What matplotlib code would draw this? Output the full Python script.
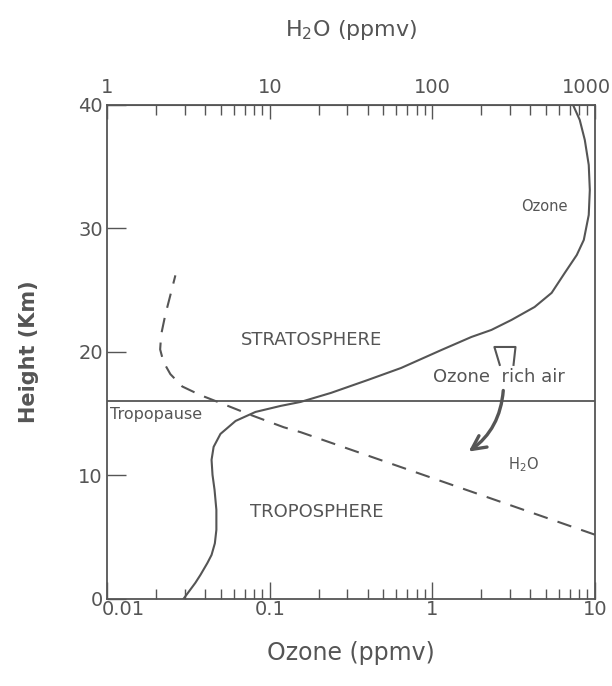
import matplotlib
matplotlib.use("Agg")
import matplotlib.pyplot as plt
import matplotlib.transforms as mtrans
from matplotlib.patches import FancyArrowPatch

# ozone profile (ppmv vs km)
ozone_ppmv = [0.0295, 0.0349, 0.0375, 0.0414, 0.0439, 0.0460, 0.0470, 0.0470, 0.0458,
              0.0445, 0.0439, 0.0452, 0.0498, 0.0617, 0.0818, 0.117, 0.155, 0.238,
              0.402, 0.643, 1.14, 1.74, 2.31, 3.07, 4.26, 5.42, 6.53, 7.74, 8.55,
              9.17, 9.31, 9.17, 8.67, 8.07, 7.4]
ozone_km = [0.0, 1.3, 1.94, 2.91, 3.56, 4.5, 5.59, 7.21, 8.83,
            10.04, 11.26, 12.31, 13.36, 14.41, 15.14, 15.63, 15.95, 16.68,
            17.73, 18.70, 20.16, 21.21, 21.78, 22.59, 23.64, 24.78, 26.40, 27.85, 29.07,
            31.09, 33.12, 35.14, 37.17, 38.79, 39.9]

# water vapour profile (ppmv vs km)
h2o_ppmv = [1000, 222, 15.5, 12.2, 7.63, 5.13, 3.75, 2.90, 2.45, 2.22, 2.12, 2.15,
            2.28, 2.45, 2.63]
h2o_km = [5.2, 8.2, 13.5, 13.9, 14.9, 15.8, 16.5, 17.2, 18.2, 19.2, 20.2, 21.4,
          23.0, 24.6, 26.2]

tropopause_km = 16.0

bottom_ticks = [0.01, 0.1, 1, 10]
bottom_labels = ["0.01", "0.1", "1", "10"]
top_ticks = [1, 10, 100, 1000]
top_labels = ["1", "10", "100", "1000"]
height_ticks = [0, 10, 20, 30, 40]

ink = "#555555"
plt.rcParams["font.family"] = ["DejaVu Sans"]

fig = plt.figure(figsize=(6.12, 6.86), dpi=100)
ax = fig.add_axes([0.175, 0.127, 0.797, 0.720])

ax.plot(ozone_ppmv, ozone_km, color=ink, lw=1.5)
ax.axhline(tropopause_km, color=ink, lw=1.3)

# H2O shares the y axis, top scale = 100 x bottom scale
ax.plot([v / 100.0 for v in h2o_ppmv], h2o_km, color=ink, lw=1.5, dashes=(7, 5))

ax.set_xscale("log")
ax.set_xlim(0.01, 10)
ax.set_ylim(0, 40)
for s in ax.spines.values():
    s.set_color(ink)
    s.set_linewidth(1.3)

ax.set_xticks(bottom_ticks)
ax.set_xticklabels(bottom_labels)
ax.set_yticks(height_ticks)
ax.tick_params(axis="x", which="major", direction="in", length=12, width=1, color=ink,
               labelsize=14, labelcolor=ink, pad=1)
ax.tick_params(axis="x", which="minor", direction="in", length=7, width=1, color=ink)
ax.tick_params(axis="y", direction="in", length=14, width=1, color=ink,
               labelsize=14, labelcolor=ink, pad=3)
# nudge the first bottom label off the corner
lab0 = ax.get_xticklabels()[0]
lab0.set_transform(lab0.get_transform() + mtrans.ScaledTranslation(16 / 100, 0, fig.dpi_scale_trans))

top = ax.secondary_xaxis("top", functions=(lambda x: x * 100.0, lambda x: x / 100.0))
top.set_xticks(top_ticks)
top.set_xticklabels(top_labels)
top.tick_params(axis="x", which="major", direction="in", length=10, width=1, color=ink,
                labelsize=14, labelcolor=ink, pad=6)
top.tick_params(axis="x", which="minor", direction="in", length=7, width=1, color=ink)
top.spines["top"].set_color(ink)
top.set_xlabel("H$_2$O (ppmv)", fontsize=16, color=ink, labelpad=30)
labN = top.get_xticklabels()[-1]
labN.set_transform(labN.get_transform() + mtrans.ScaledTranslation(-8 / 100, 0, fig.dpi_scale_trans))

ax.set_xlabel("Ozone (ppmv)", fontsize=17, color=ink, labelpad=16)
ax.set_ylabel("Height (Km)", fontsize=15, fontweight="bold", color=ink, labelpad=28)

ax.text(0.18, 21.0, "STRATOSPHERE", fontsize=13, color=ink, ha="center", va="center")
ax.text(0.195, 7.0, "TROPOSPHERE", fontsize=13, color=ink, ha="center", va="center")
ax.text(0.0104, 14.9, "Tropopause", fontsize=11.5, color=ink, ha="left", va="center")
ax.text(4.9, 31.8, "Ozone", fontsize=10.5, color=ink, ha="center", va="center")
ax.text(3.65, 10.85, "H$_2$O", fontsize=10.5, color=ink, ha="center", va="center")
ax.text(1.01, 18.0, "Ozone  rich air", fontsize=13, color=ink, ha="left", va="center")

# small bracket above the arrow
ax.plot([2.6, 2.41, 3.25, 3.16], [18.95, 20.4, 20.4, 18.95], color=ink, lw=1.5)

arrow = FancyArrowPatch((2.74, 17.1), (1.62, 11.8), connectionstyle="arc3,rad=-0.25",
                        arrowstyle="->,head_length=10,head_width=5", color=ink, lw=2.4,
                        mutation_scale=1)
ax.add_patch(arrow)

fig.savefig("out.png", dpi=100)
